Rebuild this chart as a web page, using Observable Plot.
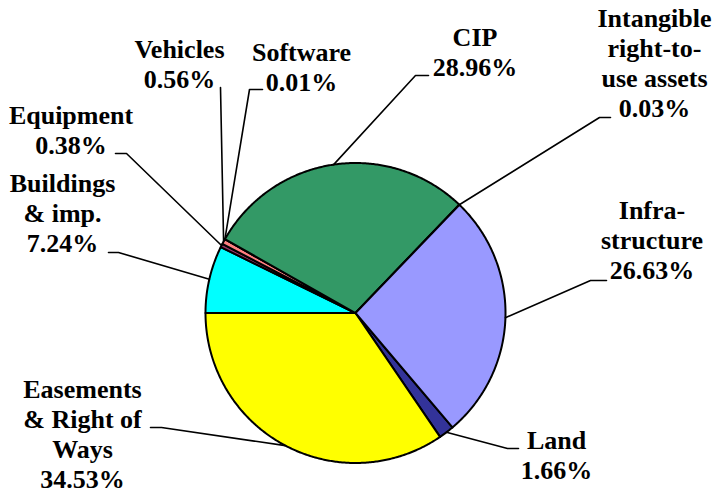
<!DOCTYPE html>
<html>
<head>
<meta charset="utf-8">
<script src="https://cdn.jsdelivr.net/npm/d3@7"></script>
<script src="https://cdn.jsdelivr.net/npm/@observablehq/plot@0.6"></script>
<style>
  html, body { margin: 0; padding: 0; background: #ffffff; }
  #chart svg { display: block; }
  #chart svg text { font-family: "Liberation Serif", "Times New Roman", serif !important; font-weight: bold; }
</style>
</head>
<body>
<div id="chart"></div>
<script>
// ---- data ----
const categories = ["Land", "Easements & Right of Ways", "Buildings & imp.", "Equipment", "Vehicles", "Software", "CIP", "Intangible right-to-use assets", "Infrastructure"];
const shares = [1.66, 34.53, 7.24, 0.38, 0.56, 0.01, 28.96, 0.03, 26.63];
const labelNames = ["Land", "Easements\n& Right of\nWays", "Buildings\n& imp.", "Equipment", "Vehicles", "Software", "CIP", "Intangible\nright-to-\nuse assets", "Infra-\nstructure"];
const colors = ["#333399", "#FFFF00", "#00FFFF", "#993366", "#FF8080", "#CCFFFF", "#339966", "#FFFFCC", "#9999FF"];

// ---- layout ----
const W = 715, H = 492;
const cx = 355, cy = 312.5, r = 150;
const rotation = 139.72; // degrees clockwise from 12 o'clock where first slice starts
// label anchor: [center x, baseline of last line], leader start p0 and elbow p1
const labelLayout = [
  {x: 556, y: 478, p0: [518, 448], p1: [507, 448]},
  {x: 82, y: 487, p0: [150, 427], p1: [161, 427]},
  {x: 62, y: 251, p0: [108, 252], p1: [118, 252]},
  {x: 70.5, y: 153, p0: [115, 153], p1: [126, 153]},
  {x: 179, y: 87, p0: [220, 87], p1: [220, 87]},
  {x: 301, y: 90, p0: [262, 89], p1: [249, 89]},
  {x: 474.5, y: 75, p0: [428, 75], p1: [415, 75]},
  {x: 654, y: 116, p0: [610, 117], p1: [599, 117]},
  {x: 651.5, y: 278, p0: [606, 280], p1: [590, 280]}
];

const total = d3.sum(shares);
const pt = (deg, rr) => [cx + rr * Math.sin(deg * Math.PI / 180), cy - rr * Math.cos(deg * Math.PI / 180)];

let acc = 0;
const slices = categories.map((c, i) => {
  const a0 = rotation + acc / total * 360;
  acc += shares[i];
  const a1 = rotation + acc / total * 360;
  return {c, i, a0, a1, color: colors[i]};
});

const polyPts = [];
slices.forEach(s => {
  polyPts.push({c: s.c, x: cx, y: cy, color: s.color});
  const n = Math.max(2, Math.ceil((s.a1 - s.a0) / 0.5));
  for (let k = 0; k <= n; k++) {
    const [x, y] = pt(s.a0 + (s.a1 - s.a0) * k / n, r);
    polyPts.push({c: s.c, x, y, color: s.color});
  }
});

const leaderPts = [];
slices.forEach((s, i) => {
  const L = labelLayout[i];
  const [mx, my] = pt((s.a0 + s.a1) / 2, r);
  leaderPts.push({c: s.c, x: L.p0[0], y: L.p0[1]});
  leaderPts.push({c: s.c, x: L.p1[0], y: L.p1[1]});
  leaderPts.push({c: s.c, x: mx, y: my});
});

const labels = slices.map((s, i) => ({
  x: labelLayout[i].x,
  y: labelLayout[i].y,
  text: labelNames[i] + "\n" + shares[i].toFixed(2) + "%"
}));

const chart = Plot.plot({
  width: W,
  height: H,
  margin: 0,
  x: {domain: [0, W], range: [0, W], axis: null},
  y: {domain: [0, H], range: [0, H], axis: null},
  color: {type: "identity"},
  style: {background: "#ffffff", fontFamily: "'Liberation Serif', serif"},
  marks: [
    Plot.line(polyPts, {x: "x", y: "y", z: "c", fill: "color", stroke: "#000000", strokeWidth: 2, curve: "linear-closed", strokeLinejoin: "round"}),
    Plot.line(leaderPts, {x: "x", y: "y", z: "c", stroke: "#000000", strokeWidth: 1.6, curve: "linear"}),
    Plot.text(labels, {x: "x", y: "y", text: "text", textAnchor: "middle", lineAnchor: "bottom", lineHeight: 1.154, fontSize: 26, fontWeight: "bold", fontFamily: "'Liberation Serif', serif", fill: "#000000"})
  ]
});
document.getElementById("chart").appendChild(chart);
</script>
</body>
</html>
